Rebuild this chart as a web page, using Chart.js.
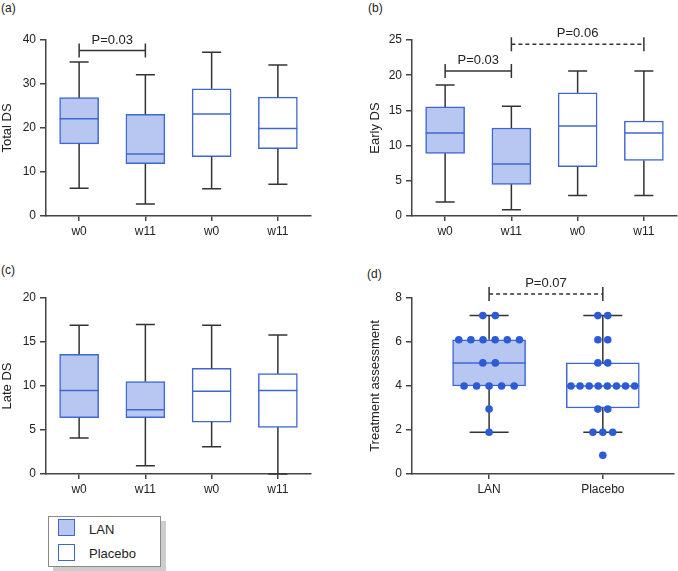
<!DOCTYPE html>
<html>
<head>
<meta charset="utf-8">
<script src="https://cdn.jsdelivr.net/npm/chart.js@4"></script>
<style>
  body { margin: 0; background: #fff; font-family: 'Liberation Sans', Arial, sans-serif; }
  #wrap { position: relative; width: 678px; height: 571px; overflow: hidden; }
  canvas { position: absolute; }
  .tag { position: absolute; font-size: 12px; color: #222; }
  #legend { position: absolute; left: 48px; top: 516px; width: 111px; height: 49px; border: 1px solid #8a8a8a;
            box-shadow: 5px 5px 0 #cdcdcd; background: #fff; }
  #legend .sw { position: absolute; left: 9px; width: 15px; height: 15px; border: 1.5px solid #3f67d4; }
  #legend span { position: absolute; left: 40px; font-size: 13px; color: #222; }
</style>
</head>
<body>
<div id="wrap">
  <div class="tag" style="left:1px;top:1px">(a)</div>
  <div class="tag" style="left:368px;top:1px">(b)</div>
  <div class="tag" style="left:1px;top:263px">(c)</div>
  <div class="tag" style="left:367px;top:267px">(d)</div>

  <canvas id="chartA" width="339" height="240" style="left:0;top:0"></canvas>
  <canvas id="chartB" width="312" height="240" style="left:366px;top:0"></canvas>
  <canvas id="chartC" width="339" height="248" style="left:0;top:250px"></canvas>
  <canvas id="chartD" width="312" height="248" style="left:366px;top:250px"></canvas>

  <div id="legend">
    <div class="sw" style="top:2px;background:#b7c7f1"></div><span style="top:5px">LAN</span>
    <div class="sw" style="top:27px;background:#fff"></div><span style="top:29px">Placebo</span>
  </div>
</div>

<script>
// ---- data ----
const weeks = ['w0', 'w11', 'w0', 'w11'];
const weekArm = [0, 0, 1, 1]; // 0 = LAN, 1 = Placebo
const arms = ['LAN', 'Placebo'];

// (a) Total DS
const totalMin = [6.3, 2.7, 6.2, 7.2];
const totalQ1 = [16.4, 11.9, 13.5, 15.3];
const totalMed = [22.1, 14.1, 23.2, 19.9];
const totalQ3 = [26.9, 23.1, 28.9, 27.0];
const totalMax = [35.0, 32.1, 37.2, 34.3];
const totalP = [{ from: 0, to: 1, y: 37.6, text: 'P=0.03', dashed: false }];

// (b) Early DS
const earlyMin = [2.0, 0.9, 2.9, 2.9];
const earlyQ1 = [8.9, 4.5, 7.0, 7.9];
const earlyMed = [11.8, 7.4, 12.8, 11.8];
const earlyQ3 = [15.5, 12.5, 17.5, 13.5];
const earlyMax = [18.6, 15.6, 20.6, 20.6];
const earlyP = [
  { from: 0, to: 1, y: 20.6, text: 'P=0.03', dashed: false },
  { from: 1, to: 3, y: 24.4, text: 'P=0.06', dashed: true }
];

// (c) Late DS
const lateMin = [4.1, 0.95, 3.1, 0];
const lateQ1 = [6.4, 6.4, 5.9, 5.3];
const lateMed = [9.5, 7.3, 9.4, 9.5];
const lateQ3 = [13.6, 10.5, 12.0, 11.4];
const lateMax = [16.9, 17.0, 16.9, 15.8];

// (d) Treatment assessment
const treatMin = [1.9, 1.9];
const treatQ1 = [4.0, 3.0];
const treatMed = [5.05, 4.0];
const treatQ3 = [6.1, 5.05];
const treatMax = [7.2, 7.2];
const lanScores = [7.2, 7.2, 6.1, 6.1, 6.1, 6.1, 6.1, 6.1, 5.05, 5.05, 4.0, 4.0, 4.0, 4.0, 4.0, 2.95, 1.9];
const placeboScores = [7.2, 7.2, 6.1, 6.1, 5.05, 5.05, 4.0, 4.0, 4.0, 4.0, 4.0, 4.0, 4.0, 4.0, 2.95, 2.95, 1.9, 1.9, 1.9, 0.85];
const treatP = [{ from: 0, to: 1, y: 8.18, text: 'P=0.07', dashed: true }];

// ---- styling ----
const lanFill = '#b7c7f1';
const boxLine = '#3f67d4';
const dotColor = '#2b5bd7';
const ink = '#333';
const axisColor = '#444';
const FONT = "'Liberation Sans', Arial, sans-serif";

// whiskers, medians and P brackets drawn on top of the bar boxes
function boxPlugin(stats, brackets, capWidth) {
  return {
    id: 'boxExtras',
    afterDatasetDraw(chart, args) {
      if (args.meta.type !== 'bar') return;
      const ys = chart.scales.y;
      const ctx = chart.ctx;
      ctx.save();
      ctx.lineWidth = 1.5;
      args.meta.data.forEach((bar, i) => {
        const x = bar.x, half = bar.width / 2, cap = capWidth / 2;
        const yMin = ys.getPixelForValue(stats.min[i]);
        const yMax = ys.getPixelForValue(stats.max[i]);
        ctx.strokeStyle = ink;
        ctx.beginPath();
        ctx.moveTo(x, yMin); ctx.lineTo(x, ys.getPixelForValue(stats.q1[i]));
        ctx.moveTo(x, ys.getPixelForValue(stats.q3[i])); ctx.lineTo(x, yMax);
        ctx.moveTo(x - cap, yMin); ctx.lineTo(x + cap, yMin);
        ctx.moveTo(x - cap, yMax); ctx.lineTo(x + cap, yMax);
        ctx.stroke();
        const yMed = ys.getPixelForValue(stats.med[i]);
        ctx.strokeStyle = boxLine;
        ctx.beginPath();
        ctx.moveTo(x - half, yMed); ctx.lineTo(x + half, yMed);
        ctx.stroke();
      });
      ctx.restore();
    },
    afterDraw(chart) {
      const xs = chart.scales.x, ys = chart.scales.y, ctx = chart.ctx;
      ctx.save();
      brackets.forEach(b => {
        const x1 = xs.getPixelForValue(b.from), x2 = xs.getPixelForValue(b.to);
        const y = ys.getPixelForValue(b.y);
        ctx.strokeStyle = ink;
        ctx.lineWidth = 1.5;
        ctx.setLineDash(b.dashed ? [4, 3] : []);
        ctx.beginPath();
        ctx.moveTo(x1, y); ctx.lineTo(x2, y);
        ctx.stroke();
        ctx.setLineDash([]);
        ctx.beginPath();
        ctx.moveTo(x1, y - 7); ctx.lineTo(x1, y + 7);
        ctx.moveTo(x2, y - 7); ctx.lineTo(x2, y + 7);
        ctx.stroke();
        ctx.fillStyle = '#222';
        ctx.font = '13px ' + FONT;
        ctx.textAlign = 'center';
        ctx.textBaseline = 'bottom';
        ctx.fillText(b.text, (x1 + x2) / 2, y - 4);
      });
      ctx.restore();
    }
  };
}

function axisOpts(extra) {
  return Object.assign({
    border: { display: true, color: axisColor, width: 1.5 },
    grid: { drawOnChartArea: false, drawTicks: true, color: axisColor, lineWidth: 1.5 },
    ticks: { color: '#222', font: { family: FONT, size: 12 } }
  }, extra);
}

function makePanel(id, o) {
  const linearX = !!o.xMin || o.xMin === 0;
  const boxes = o.q1.map((q, i) => linearX ? { x: i, y: [q, o.q3[i]] } : [q, o.q3[i]]);
  const datasets = [{
    type: 'bar',
    order: 1,
    data: boxes,
    backgroundColor: o.arm.map(a => a === 0 ? lanFill : '#fff'),
    borderColor: boxLine,
    borderWidth: 1.5,
    borderSkipped: false,
    barThickness: o.boxWidth
  }];
  if (o.dots) datasets.push({
    type: 'scatter',
    order: 0,
    data: o.dots,
    pointRadius: 3.8,
    pointBackgroundColor: dotColor,
    pointBorderWidth: 0
  });

  const xScale = linearX
    ? axisOpts({
        type: 'linear', min: o.xMin, max: o.xMax, offset: false,
        afterBuildTicks: s => { s.ticks = o.labels.map((_, i) => ({ value: i })); },
        ticks: { color: '#222', font: { family: FONT, size: 12 }, callback: v => o.labels[v] },
        afterFit: s => { s.height = 24; }
      })
    : axisOpts({ type: 'category', labels: o.labels, offset: true, afterFit: s => { s.height = 24; } });
  xScale.grid = Object.assign({}, xScale.grid, { offset: false, tickLength: 5 });

  const yScale = axisOpts({
    min: 0, max: o.yMax,
    afterFit: s => { s.width = 46; },
    title: { display: true, text: o.title, color: '#222', font: { family: FONT, size: 13 }, padding: { top: o.titlePad, bottom: 0 } }
  });
  yScale.grid = Object.assign({}, yScale.grid, { tickLength: 6 });
  yScale.ticks = Object.assign({}, yScale.ticks, { stepSize: o.step, padding: 4 });

  return new Chart(document.getElementById(id), {
    type: 'bar',
    data: { labels: linearX ? undefined : o.labels, datasets },
    options: {
      responsive: false,
      animation: false,
      layout: { padding: { top: o.padTop, right: o.padRight, left: 0, bottom: 0 } },
      plugins: { legend: { display: false }, tooltip: { enabled: false } },
      scales: { x: xScale, y: yScale }
    },
    plugins: [boxPlugin({ min: o.min, q1: o.q1, med: o.med, q3: o.q3, max: o.max }, o.brackets, o.capWidth)]
  });
}

// spread equal scores side by side around their group centre
function swarm(scores, group, step) {
  const counts = {};
  scores.forEach(v => { counts[v] = (counts[v] || 0) + 1; });
  const seen = {};
  return scores.map(v => {
    const n = counts[v];
    const k = seen[v] = (seen[v] === undefined ? 0 : seen[v] + 1);
    const s = Math.min(step, 0.64 / n);
    return { x: group + (k - (n - 1) / 2) * s, y: v };
  });
}

makePanel('chartA', {
  labels: weeks, arm: weekArm, title: 'Total DS', yMax: 40, step: 10,
  min: totalMin, q1: totalQ1, med: totalMed, q3: totalQ3, max: totalMax, brackets: totalP,
  boxWidth: 39, capWidth: 19, padTop: 40, padRight: 28, titlePad: 0
});
makePanel('chartB', {
  labels: weeks, arm: weekArm, title: 'Early DS', yMax: 25, step: 5,
  min: earlyMin, q1: earlyQ1, med: earlyMed, q3: earlyQ3, max: earlyMax, brackets: earlyP,
  boxWidth: 39, capWidth: 19, padTop: 40, padRight: 1, titlePad: 2
});
makePanel('chartC', {
  labels: weeks, arm: weekArm, title: 'Late DS', yMax: 20, step: 5,
  min: lateMin, q1: lateQ1, med: lateMed, q3: lateQ3, max: lateMax, brackets: [],
  boxWidth: 39, capWidth: 19, padTop: 48, padRight: 28, titlePad: 0
});
makePanel('chartD', {
  labels: arms, arm: [0, 1], title: 'Treatment assessment', yMax: 8, step: 2,
  min: treatMin, q1: treatQ1, med: treatMed, q3: treatQ3, max: treatMax, brackets: treatP,
  xMin: -0.678, xMax: 1.626,
  dots: swarm(lanScores, 0, 0.11).concat(swarm(placeboScores, 1, 0.087)),
  boxWidth: 73, capWidth: 39, padTop: 48, padRight: 1, titlePad: 2
});
</script>
</body>
</html>
